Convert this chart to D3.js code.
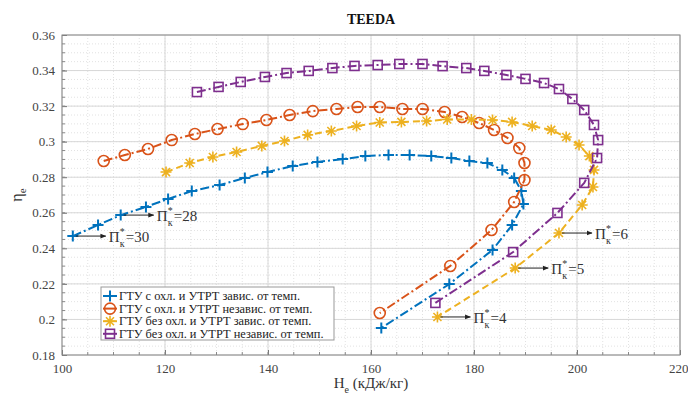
<!DOCTYPE html>
<html><head><meta charset="utf-8">
<script src="https://cdn.jsdelivr.net/npm/d3@7"></script>
<style>body{margin:0;background:#fff}svg{display:block}</style>
</head><body><svg id="c" width="688" height="394"></svg>
<script>
// ---- data ----
const piValues = [30,29,28,27,26,25,24,23,22,21,20,19,18,17,16,15,14,13,12,11,10,9,8,7,6,5,4];
const blueH   = [102.1,107.0,111.4,116.3,120.6,125.2,130.6,135.5,139.9,144.8,149.6,154.5,158.9,163.4,167.5,171.7,175.6,179.1,182.6,185.5,187.8,189.2,189.6,187.4,183.6,175.2,162.0];
const blueEta = [0.2469,0.2531,0.2587,0.2633,0.2678,0.2722,0.2756,0.2796,0.2829,0.2863,0.2886,0.2902,0.2919,0.2925,0.2925,0.2919,0.2908,0.2891,0.2880,0.2841,0.2796,0.2723,0.2649,0.2531,0.2391,0.2199,0.1952];
const orangeH   = [108.1,112.2,116.7,121.3,125.8,130.2,135.1,139.7,144.2,148.7,153.3,157.4,161.7,166.1,170.0,174.3,177.7,181.0,183.9,186.5,188.8,189.8,189.8,187.8,183.4,175.4,161.7];
const orangeEta = [0.2891,0.2925,0.2959,0.3009,0.3043,0.3071,0.3099,0.3122,0.3150,0.3172,0.3184,0.3195,0.3195,0.3184,0.3184,0.3167,0.3139,0.3105,0.3066,0.3021,0.2964,0.2880,0.2784,0.2661,0.2503,0.2301,0.2036];
const yellowH   = [120.2,124.8,129.3,133.9,138.8,143.2,147.7,152.3,157.2,161.7,165.9,170.8,174.8,179.5,183.6,187.4,191.3,195.0,197.9,200.4,202.4,203.3,203.1,201.0,196.5,188.0,172.9];
const yellowEta = [0.2829,0.2880,0.2914,0.2942,0.2976,0.3004,0.3038,0.3060,0.3088,0.3108,0.3111,0.3116,0.3125,0.3125,0.3122,0.3111,0.3088,0.3066,0.3026,0.2981,0.2919,0.2841,0.2745,0.2644,0.2486,0.2289,0.2014];
const purpleH   = [126.2,130.4,134.7,139.4,143.6,147.9,152.5,156.8,161.3,165.5,170.0,173.9,178.5,182.0,186.3,190.0,193.6,196.5,199.1,201.4,203.3,204.1,203.9,201.4,196.2,187.6,172.5];
const purpleEta = [0.3279,0.3308,0.3336,0.3364,0.3386,0.3398,0.3414,0.3426,0.3431,0.3437,0.3437,0.3425,0.3414,0.3398,0.3375,0.3353,0.3330,0.3296,0.3240,0.3178,0.3094,0.3009,0.2908,0.2768,0.2599,0.2379,0.2093];
const legendLabels = [
  "ГТУ с охл. и УТРТ завис. от темп.",
  "ГТУ с охл. и УТРТ независ. от темп.",
  "ГТУ без охл. и УТРТ завис. от темп.",
  "ГТУ без охл. и УТРТ независ. от темп."
];
const xTicks = [100,120,140,160,180,200,220];
const yTicks = [0.18,0.2,0.22,0.24,0.26,0.28,0.3,0.32,0.34,0.36];
const yTickLabels = ["0.18","0.2","0.22","0.24","0.26","0.28","0.3","0.32","0.34","0.36"];
const annotations = [
  {series:0, pi:30}, {series:0, pi:28},
  {series:2, pi:6}, {series:2, pi:5}, {series:2, pi:4}
];

// ---- layout ----
const svg = d3.select("#c");
const L=62, R=680, T=35, B=355;
const x = d3.scaleLinear().domain([100,220]).range([L,R]);
const y = d3.scaleLinear().domain([0.18,0.36]).range([B,T]);
const serif = "'Liberation Serif','Times New Roman',serif";

const series = [
  {h:blueH, e:blueEta, color:"#0072BD", dash:"9,3,2,3", marker:"plus"},
  {h:orangeH, e:orangeEta, color:"#D95319", dash:"9,3,2,3", marker:"circle"},
  {h:yellowH, e:yellowEta, color:"#EDB120", dash:"7,4", marker:"star"},
  {h:purpleH, e:purpleEta, color:"#7E2F8E", dash:"9,3,2,3", marker:"square"}
];

// grid
const g = svg.append("g");
const xMinor = d3.range(105,220,5), yMinor = d3.range(0.185,0.36,0.005);
g.selectAll(".xm").data(xMinor).enter().append("line")
  .attr("x1",d=>x(d)).attr("x2",d=>x(d)).attr("y1",T).attr("y2",B)
  .attr("stroke","#e2e2e2").attr("stroke-width",1).attr("stroke-dasharray","1,2");
g.selectAll(".ym").data(yMinor).enter().append("line")
  .attr("y1",d=>y(d)).attr("y2",d=>y(d)).attr("x1",L).attr("x2",R)
  .attr("stroke","#e2e2e2").attr("stroke-width",1).attr("stroke-dasharray","1,2");
g.selectAll(".xg").data(xTicks).enter().append("line")
  .attr("x1",d=>x(d)).attr("x2",d=>x(d)).attr("y1",T).attr("y2",B)
  .attr("stroke","#d8d8d8").attr("stroke-width",1);
g.selectAll(".yg").data(yTicks).enter().append("line")
  .attr("y1",d=>y(d)).attr("y2",d=>y(d)).attr("x1",L).attr("x2",R)
  .attr("stroke","#d8d8d8").attr("stroke-width",1);

// axes
const xAxis = d3.axisBottom(x).tickValues(xTicks).tickSizeInner(-5).tickSizeOuter(0).tickPadding(9);
const yAxis = d3.axisLeft(y).tickValues(yTicks).tickFormat((d,i)=>yTickLabels[i]).tickSizeInner(-5).tickSizeOuter(0).tickPadding(7);
const ax = svg.append("g").attr("transform",`translate(0,${B})`).call(xAxis);
const ay = svg.append("g").attr("transform",`translate(${L},0)`).call(yAxis);
[ax,ay].forEach(a=>{
  a.select(".domain").remove();
  a.selectAll("line").attr("stroke","#777");
  a.selectAll("text").attr("font-family",serif).attr("font-size",13).attr("fill","#444");
});
ax.selectAll("text").filter(d=>d===220).attr("text-anchor","end").attr("dx",8);
// minor ticks
svg.append("g").selectAll("line").data(yMinor).enter().append("line")
  .attr("x1",L).attr("x2",L+3).attr("y1",d=>y(d)).attr("y2",d=>y(d)).attr("stroke","#888");
svg.append("g").selectAll("line").data(xMinor).enter().append("line")
  .attr("y1",B).attr("y2",B-3).attr("x1",d=>x(d)).attr("x2",d=>x(d)).attr("stroke","#888");
svg.append("rect").attr("x",L).attr("y",T).attr("width",R-L).attr("height",B-T)
  .attr("fill","none").attr("stroke","#888").attr("stroke-width",1);

// title & labels
svg.append("text").attr("x",(L+R)/2).attr("y",24).attr("text-anchor","middle")
  .attr("font-family",serif).attr("font-weight","bold").attr("font-size",14).attr("fill","#111").text("TEEDA");
const xl = svg.append("text").attr("x",(L+R)/2).attr("y",388).attr("text-anchor","middle")
  .attr("font-family",serif).attr("font-size",15).attr("fill","#333");
xl.append("tspan").text("H");
xl.append("tspan").attr("dy",5).attr("font-size",10).text("e");
xl.append("tspan").attr("dy",-5).text(" (кДж/кг)");
const yl = svg.append("text").attr("transform",`translate(22,${(T+B)/2}) rotate(-90)`).attr("text-anchor","middle")
  .attr("font-family",serif).attr("font-size",16).attr("fill","#333");
yl.append("tspan").text("η");
yl.append("tspan").attr("dy",4).attr("font-size",11).text("e");

// markers
function drawMarker(sel, type, color){
  if(type==="plus") sel.append("path").attr("d","M-5.5,0H5.5M0,-5.5V5.5").attr("stroke",color).attr("stroke-width",2).attr("fill","none");
  else if(type==="circle") sel.append("circle").attr("r",5.5).attr("stroke",color).attr("stroke-width",1.6).attr("fill","none");
  else if(type==="star") sel.append("path").attr("d","M-5.5,0H5.5M0,-5.5V5.5M-4,-4L4,4M-4,4L4,-4").attr("stroke",color).attr("stroke-width",1.6).attr("fill","none");
  else sel.append("rect").attr("x",-4.5).attr("y",-4.5).attr("width",9).attr("height",9).attr("stroke",color).attr("stroke-width",1.6).attr("fill","none");
}

const line = d3.line().x(d=>x(d[0])).y(d=>y(d[1]));
series.forEach(s=>{
  const pts = s.h.map((h,i)=>[h,s.e[i]]);
  svg.append("path").datum(pts).attr("d",line).attr("fill","none")
    .attr("stroke",s.color).attr("stroke-width",2).attr("stroke-dasharray",s.dash);
  svg.append("g").selectAll("g").data(pts).enter().append("g")
    .attr("transform",d=>`translate(${x(d[0])},${y(d[1])})`)
    .each(function(){ drawMarker(d3.select(this), s.marker, s.color); });
});

// annotations
svg.append("defs").append("marker").attr("id","ah").attr("viewBox","0 0 10 10").attr("refX",9).attr("refY",5)
  .attr("markerWidth",6).attr("markerHeight",6).attr("orient","auto")
  .append("path").attr("d","M0,1L10,5L0,9Z").attr("fill","#222");
annotations.forEach(a=>{
  const s = series[a.series], i = piValues.indexOf(a.pi);
  const px = x(s.h[i]), py = y(s.e[i]);
  svg.append("line").attr("x1",px+3).attr("x2",px+33).attr("y1",py).attr("y2",py)
    .attr("stroke","#222").attr("stroke-width",1).attr("marker-end","url(#ah)");
  const tx = px+36, ty = py+6;
  const t = svg.append("g").attr("font-family",serif).attr("fill","#333");
  t.append("text").attr("x",tx).attr("y",ty).attr("font-size",15).text("Π");
  t.append("text").attr("x",tx+11).attr("y",ty-7).attr("font-size",10).text("*");
  t.append("text").attr("x",tx+11).attr("y",ty+5).attr("font-size",10).text("к");
  t.append("text").attr("x",tx+17).attr("y",ty).attr("font-size",15).text("="+a.pi);
});

// legend
const lg = svg.append("g");
lg.append("rect").attr("x",101).attr("y",287).attr("width",233).attr("height",53)
  .attr("fill","#fff").attr("stroke","#999").attr("stroke-width",1);
legendLabels.forEach((lab,i)=>{
  const s = series[i], cy = 296 + i*12.6;
  lg.append("line").attr("x1",103).attr("x2",117).attr("y1",cy).attr("y2",cy).attr("stroke",s.color).attr("stroke-width",2);
  drawMarker(lg.append("g").attr("transform",`translate(110,${cy})`), s.marker, s.color);
  lg.append("text").attr("x",119).attr("y",cy+4).attr("font-family",serif).attr("font-size",12.4).attr("fill","#222").text(lab);
});
</script></body></html>
